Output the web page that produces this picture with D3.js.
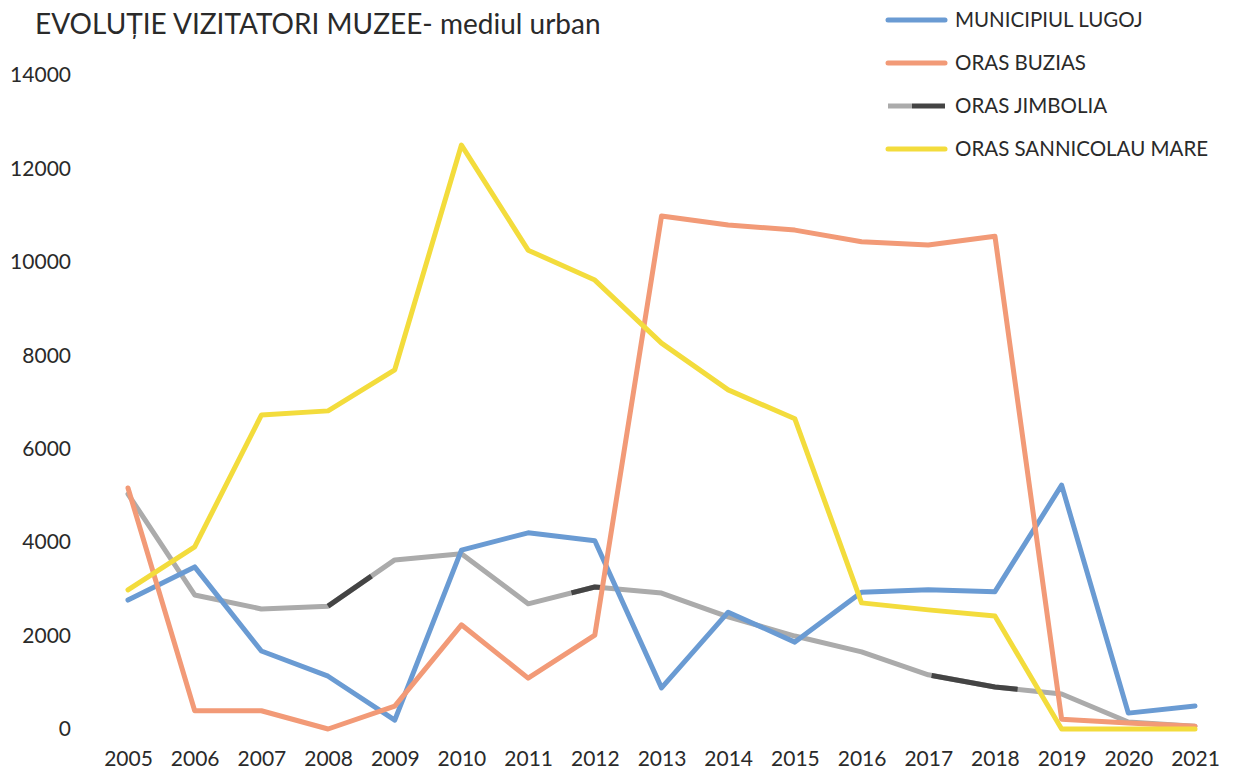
<!DOCTYPE html>
<html><head><meta charset="utf-8">
<script src="https://cdn.jsdelivr.net/npm/d3@7"></script>
<style>body{margin:0;background:#fff}svg{display:block}</style>
</head><body><svg id="c" width="1238" height="775"></svg>
<script>
const years = [2005,2006,2007,2008,2009,2010,2011,2012,2013,2014,2015,2016,2017,2018,2019,2020,2021];
const seriesNames = ["MUNICIPIUL LUGOJ","ORAS BUZIAS","ORAS JIMBOLIA","ORAS SANNICOLAU MARE"];
const lugoj = [2760,3470,1670,1130,190,3830,4200,4030,880,2500,1860,2930,2980,2940,5220,340,490];
const buzias = [5160,390,390,0,490,2230,1090,2010,10980,10790,10680,10430,10360,10550,210,130,60];
const jimbolia = [5030,2870,2570,2630,3620,3750,2680,3040,2910,2400,1990,1650,1160,900,750,150,60];
const sannicolau = [2980,3900,6720,6810,7690,12500,10250,9610,8260,7260,6640,2700,2550,2420,0,0,0];
const yTicks = [0,2000,4000,6000,8000,10000,12000,14000];
// darker stretches visible on the Jimbolia line (as year positions)
const jimboliaDarkSpans = [[2008,2008.65],[2011.65,2012.1],[2017.05,2018.34]];
const colors = ["#6a9bd3","#f29a77","#ababab","#f3dc3c"];
const darkGray = "#444";

const svg = d3.select("#c");
const x = d3.scaleLinear().domain([2005,2021]).range([128,1195]);
const y = d3.scaleLinear().domain([0,14000]).range([729,75]);
const font = "Lato, 'Open Sans', sans-serif";

svg.append("text").attr("x",35).attr("y",34).attr("font-family",font).attr("font-size",28)
  .attr("fill","#2a2a2a").text("EVOLUȚIE VIZITATORI MUZEE- mediul urban");

// y axis labels
const yAxis = d3.axisLeft(y).tickValues(yTicks).tickSize(0).tickPadding(0).tickFormat(d3.format("d"));
const ga = svg.append("g").attr("transform","translate(71,0)").call(yAxis);
ga.select(".domain").remove();
ga.selectAll("text").attr("font-family",font).attr("font-size",21).attr("fill","#2a2a2a");

// x axis labels
const xAxis = d3.axisBottom(x).tickValues(years).tickSize(0).tickPadding(0).tickFormat(d3.format("d"));
const gx = svg.append("g").attr("transform","translate(0,751)").call(xAxis);
gx.select(".domain").remove();
gx.selectAll("text").attr("font-family",font).attr("font-size",21).attr("fill","#2a2a2a");

const all = [lugoj,buzias,jimbolia,sannicolau];
const line = d3.line().x((d,i)=>x(years[i])).y(d=>y(d));
const order = [2,0,1,3];
order.forEach(k=>{
  svg.append("path").attr("d",line(all[k])).attr("fill","none")
    .attr("stroke",colors[k]).attr("stroke-width",5).attr("stroke-linejoin","round").attr("stroke-linecap","round");
  if(k===2){
    const interp = t=>{const i=Math.min(Math.floor(t-2005),15);const f=t-2005-i;return jimbolia[i]+(jimbolia[i+1]-jimbolia[i])*f;};
    jimboliaDarkSpans.forEach(([a,b])=>{
      const pts=[a];for(let yy=Math.ceil(a);yy<b;yy++) if(yy>a) pts.push(yy);pts.push(b);
      svg.append("path").attr("d",d3.line().x(t=>x(t)).y(t=>y(interp(t)))(pts))
        .attr("fill","none").attr("stroke",darkGray).attr("stroke-width",5).attr("stroke-linejoin","round");
    });
  }
});

// legend
const lg = svg.append("g");
seriesNames.forEach((n,i)=>{
  const yy = 20 + i*43;
  if(i===2){
    lg.append("line").attr("x1",888).attr("x2",912).attr("y1",yy).attr("y2",yy).attr("stroke",colors[i]).attr("stroke-width",5);
    lg.append("line").attr("x1",912).attr("x2",945).attr("y1",yy).attr("y2",yy).attr("stroke",darkGray).attr("stroke-width",5);
  } else {
    lg.append("line").attr("x1",888).attr("x2",945).attr("y1",yy).attr("y2",yy).attr("stroke",colors[i]).attr("stroke-width",5).attr("stroke-linecap","round");
  }
  lg.append("text").attr("x",955).attr("y",yy+7).attr("font-family",font).attr("font-size",20.5)
    .attr("fill","#2a2a2a").text(n);
});
</script></body></html>
